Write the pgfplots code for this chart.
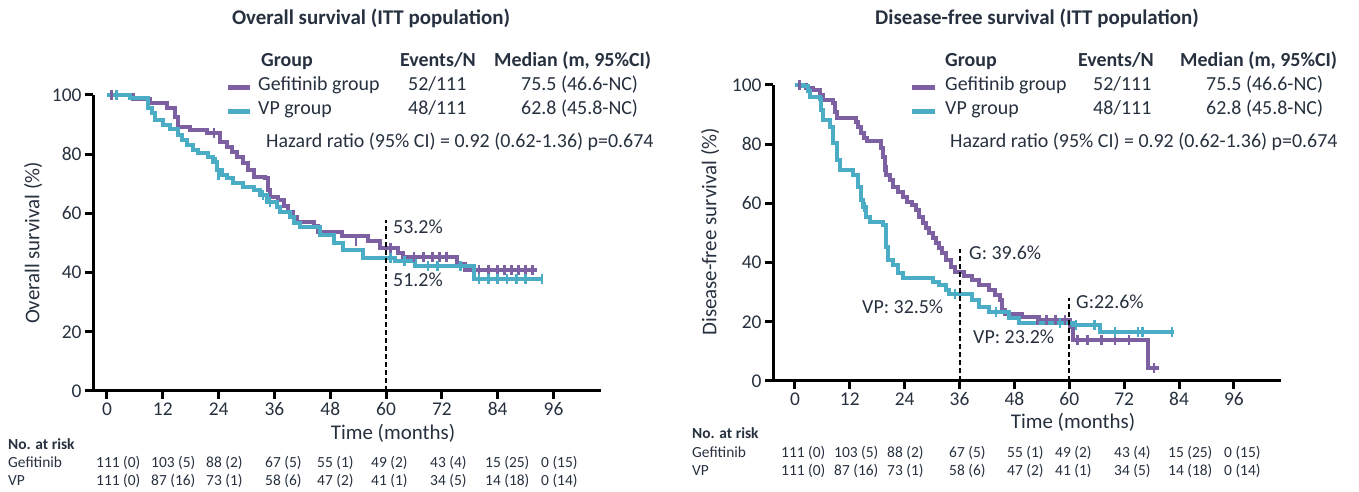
\documentclass[border=0pt]{standalone}
\usepackage{fontspec}
\setmainfont{Carlito}
\usepackage{pgfplots}
\pgfplotsset{compat=1.18}
\definecolor{txt}{RGB}{38,48,62}
\definecolor{gef}{RGB}{125,96,162}
\definecolor{vp}{RGB}{75,172,198}
\tikzset{dsh/.style={line width=2bp, black, dash pattern=on 5bp off 3bp}}
\pgfplotsset{kmaxis/.style={
  scale only axis, width=508bp, height=296bp,
  axis x line*=bottom, axis y line*=left,
  axis line style={line width=3bp, black},
  ymin=0, ymax=100, ytick={0,20,...,100}, xtick={0,12,...,96},
  tick align=outside, major tick length=8bp,
  tick style={line width=3bp, black},
  ticklabel style={font=\fontsize{19.5}{20}\selectfont, text=txt},
  /pgf/number format/assume math mode=true,
  clip=false,
},
km/.style={const plot, line width=4bp, mark=none},
cens/.style={only marks, mark=|, mark size=5bp, mark options={line width=2.5bp}},
}
\begin{document}
\begin{tikzpicture}[x=1bp,y=1bp]
\path[use as bounding box] (0,0) rectangle (1359,492);
% ---------------- Overall survival ----------------
\begin{axis}[kmaxis, at={(93bp,101bp)}, anchor=south west, xmin=-3, xmax=106.2]
\addplot[km, gef] coordinates {(0,100)(5.7,98.5)(9.2,97.2)(12.8,95.5)(14.6,92.7)(15.3,89.3)(17.8,88.2)(21.4,87.0)(24.3,84.2)(25.7,82.5)(26.8,80.9)(27.9,78.9)(29.3,76.9)(30.4,74.7)(31.5,72.4)(34.0,71.8)(34.7,67.9)(35.1,65.7)(36.8,64.5)(38.1,62.5)(39.0,60.6)(39.9,58.9)(40.8,57.2)(44.4,55.7)(45.4,53.8)(50.5,52.5)(56.2,50.8)(58.7,48.3)(62.5,46.5)(63.7,45.3)(75.3,42.8)(77.0,40.8)(92.4,40.8)};
\addplot[cens, gef] coordinates {(1,100)(23,87.0)(53.5,50.8)(61,48.3)(66,45.3)(68,45.3)(70,45.3)(71.5,45.3)(73,45.3)(80,40.8)(82,40.8)(84,40.8)(85.5,40.8)(87,40.8)(88.5,40.8)(90,40.8)(91.5,40.8)};
\addplot[km, vp] coordinates {(0,100)(4.9,98.9)(8.9,95.5)(9.6,93.8)(10.3,91.6)(12.1,89.9)(13.5,88.4)(15.3,86.5)(16.1,84.8)(17.1,83.1)(18.6,81.4)(19.6,80.3)(21.8,79.2)(22.9,77.5)(23.6,74.7)(24.7,73.0)(25.7,71.8)(27.2,70.2)(29.3,69.0)(31.5,67.9)(32.9,66.2)(34.3,64.0)(36.5,62.3)(37.2,60.6)(39.4,58.9)(40.1,56.6)(41.5,55.5)(45.8,52.7)(48.7,49.9)(50.8,47.6)(55.1,44.8)(62.0,43.9)(66.2,42.3)(78.8,37.7)(93.8,37.7)};
\addplot[cens, vp] coordinates {(2,100)(23.4,77.5)(24,73.0)(33.5,66.2)(35,64.0)(61,44.8)(64,43.9)(69,42.3)(71,42.3)(76,42.3)(80,37.7)(82,37.7)(84,37.7)(86,37.7)(88,37.7)(90,37.7)(93.5,37.7)};
\draw[dsh] (axis cs:60,0) -- (axis cs:60,57.8);
\end{axis}
% ---------------- Disease-free survival ----------------
\begin{axis}[kmaxis, at={(773bp,111bp)}, anchor=south west, xmin=-4.8, xmax=106.3]
\addplot[km, gef] coordinates {(0,100)(2.5,99)(4.0,98.3)(5.4,96.6)(6.2,94.9)(8.3,93.8)(8.7,91)(9.1,88.7)(13.4,87.6)(13.8,85.9)(14.5,83.7)(15.2,82.0)(15.7,81.1)(18.8,78.6)(19.2,75.8)(19.6,72.4)(19.9,69.6)(20.7,67.9)(21.4,65.7)(22.5,64.0)(23.6,62.3)(24.6,60.6)(25.7,59.5)(26.4,57.8)(27.2,55.5)(27.9,53.3)(28.6,51.6)(29.3,49.9)(30.1,48.2)(30.8,46.5)(31.5,44.8)(32.2,43.1)(33.0,40.9)(34.1,38.6)(35.1,36.9)(37.0,35.5)(38.8,34.1)(40.2,32.4)(42.4,30.7)(43.8,29.1)(44.9,27.4)(45.3,23.9)(46.0,22.5)(49.6,21.7)(53.3,20.6)(60.1,18.3)(60.9,13.9)(77.2,4.3)(79.7,4.3)};
\addplot[cens, gef] coordinates {(1,100)(19.5,72.4)(53,20.6)(55,20.6)(57,20.6)(59,20.6)(61.8,13.9)(64,13.9)(67,13.9)(70,13.9)(73,13.9)(78.5,4.3)};
\addplot[km, vp] coordinates {(0,100)(1.8,99.5)(2.9,98.0)(3.3,96.1)(5.4,95.2)(5.8,91.6)(6.2,88.2)(7.6,85.9)(8.3,80.3)(9.1,74.7)(9.8,71.3)(12.7,69.6)(13.8,65.7)(14.5,61.1)(14.9,58.9)(15.6,55.5)(16.3,53.8)(19.2,52.7)(19.9,45.4)(20.3,40.9)(21.4,39.2)(22.5,36.4)(23.6,34.7)(30.1,33.6)(31.5,32.4)(33.0,30.7)(33.7,29.3)(38.8,27.4)(40.2,25.1)(42.4,23.4)(46.7,21.2)(48.9,19.5)(60.9,19.0)(66.7,16.7)(83.0,16.7)};
\addplot[cens, vp] coordinates {(15.2,58.9)(20.1,45.4)(35,29.3)(44,23.4)(58,19.5)(61.5,19.0)(65.5,19.0)(70,16.7)(75,16.7)(76,16.7)(82.5,16.7)};
\draw[dsh] (axis cs:36,0) -- (axis cs:36,44.6);
\draw[dsh] (axis cs:60,0) -- (axis cs:60,28);
\end{axis}
% ---------------- texts ----------------
\begin{scope}[every node/.style={text=txt, inner sep=0pt, font=\fontsize{20}{24}\selectfont}]
% left
\node[anchor=mid, font=\fontsize{21}{24}\selectfont\bfseries] at (371,470) {Overall survival (ITT population)};
\node[anchor=mid west, font=\fontsize{20}{24}\selectfont\bfseries] at (261,428) {Group};
\node[anchor=mid west, font=\fontsize{20}{24}\selectfont\bfseries] at (400,428) {Events/N};
\node[anchor=mid west, font=\fontsize{20}{24}\selectfont\bfseries] at (494,428) {Median (m, 95\%CI)};
\draw[gef, line width=5bp] (228,404) -- (250,404);
\draw[vp, line width=5bp] (228,380) -- (250,380);
\node[anchor=mid west] at (258,404) {Gefitinib group};
\node[anchor=mid west] at (408,404) {52/111};
\node[anchor=mid west] at (521,404) {75.5 (46.6-NC)};
\node[anchor=mid west] at (258,380) {VP group};
\node[anchor=mid west] at (408,380) {48/111};
\node[anchor=mid west] at (521,380) {62.8 (45.8-NC)};
\node[anchor=mid west] at (266,347) {Hazard ratio (95\% CI) = 0.92 (0.62-1.36) p=0.674};
\node[anchor=mid west] at (393,261) {53.2\%};
\node[anchor=mid west] at (393,208) {51.2\%};
\node[anchor=mid, rotate=90, font=\fontsize{21}{24}\selectfont] at (37,249) {Overall survival (\%)};
\node[anchor=mid, font=\fontsize{21}{24}\selectfont] at (393,55) {Time (months)};
% right
\node[anchor=mid, font=\fontsize{21}{24}\selectfont\bfseries] at (1037,470) {Disease-free survival (ITT population)};
\node[anchor=mid west, font=\fontsize{20}{24}\selectfont\bfseries] at (945,428) {Group};
\node[anchor=mid west, font=\fontsize{20}{24}\selectfont\bfseries] at (1078,428) {Events/N};
\node[anchor=mid west, font=\fontsize{20}{24}\selectfont\bfseries] at (1180,428) {Median (m, 95\%CI)};
\draw[gef, line width=5bp] (912,404) -- (935,404);
\draw[vp, line width=5bp] (912,380) -- (935,380);
\node[anchor=mid west] at (945,404) {Gefitinib group};
\node[anchor=mid west] at (1093,404) {52/111};
\node[anchor=mid west] at (1206,404) {75.5 (46.6-NC)};
\node[anchor=mid west] at (945,380) {VP group};
\node[anchor=mid west] at (1093,380) {48/111};
\node[anchor=mid west] at (1206,380) {62.8 (45.8-NC)};
\node[anchor=mid west] at (950,347) {Hazard ratio (95\% CI) = 0.92 (0.62-1.36) p=0.674};
\node[anchor=mid west] at (969,235) {G: 39.6\%};
\node[anchor=mid west] at (862,181) {VP: 32.5\%};
\node[anchor=mid west] at (1076,186) {G:22.6\%};
\node[anchor=mid west] at (973,151) {VP: 23.2\%};
\node[anchor=mid, rotate=90, font=\fontsize{21}{24}\selectfont] at (714,260) {Disease-free survival (\%)};
\node[anchor=mid, font=\fontsize{21}{24}\selectfont] at (1073,66) {Time (months)};
\end{scope}
% at-risk tables
\begin{scope}[every node/.style={text=txt, inner sep=0pt, anchor=mid west, font=\fontsize{15.5}{18}\selectfont}]
\node[font=\fontsize{15.5}{18}\selectfont\bfseries] at (8,45) {No. at risk};
\node at (8,27) {Gefitinib};
\node at (8,9) {VP};
\foreach \xx/\tt in {96/111 (0),151/103 (5),206/88 (2),265/67 (5),317/55 (1),371/49 (2),430/43 (4),485/15 (25),541/0 (15)} {\node at (\xx,27) {\tt};}
\foreach \xx/\tt in {96/111 (0),151/87 (16),206/73 (1),265/58 (6),317/47 (2),371/41 (1),430/34 (5),485/14 (18),541/0 (14)} {\node at (\xx,9) {\tt};}
\node[font=\fontsize{15.5}{18}\selectfont\bfseries] at (692,56) {No. at risk};
\node at (692,37) {Gefitinib};
\node at (692,19) {VP};
\foreach \xx/\tt in {781/111 (0),834/103 (5),887/88 (2),949/67 (5),1007/55 (1),1055/49 (2),1114/43 (4),1168/15 (25),1224/0 (15)} {\node at (\xx,37) {\tt};}
\foreach \xx/\tt in {781/111 (0),834/87 (16),887/73 (1),949/58 (6),1007/47 (2),1055/41 (1),1114/34 (5),1168/14 (18),1224/0 (14)} {\node at (\xx,19) {\tt};}
\end{scope}
\end{tikzpicture}
\end{document}
